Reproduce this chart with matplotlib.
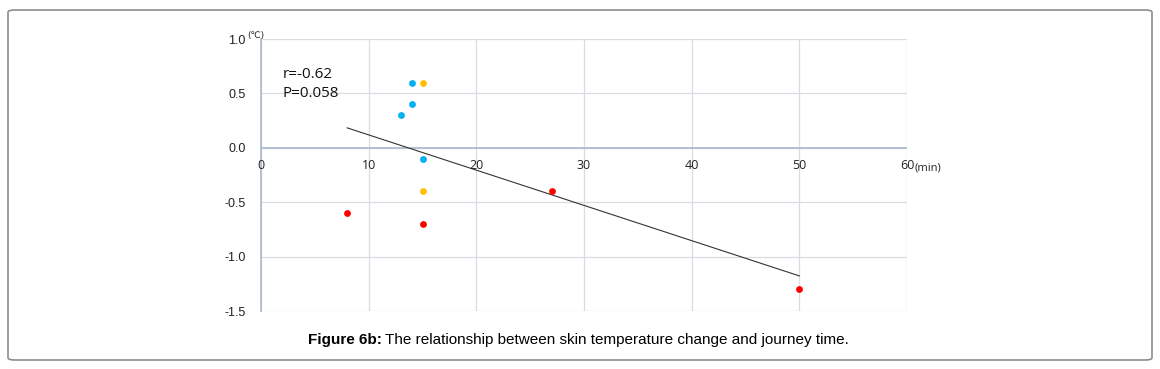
import numpy as np
import matplotlib.pyplot as plt
from matplotlib.patches import FancyBboxPatch

# journey time (min) vs skin temperature change (degC)
blue_x = [14, 14, 13, 15]
blue_y = [0.6, 0.4, 0.3, -0.1]
orange_x = [15, 15]
orange_y = [0.6, -0.4]
red_x = [8, 15, 27, 50]
red_y = [-0.6, -0.7, -0.4, -1.3]

x_ticks = [0, 10, 20, 30, 40, 50, 60]
y_ticks = [1.0, 0.5, 0.0, -0.5, -1.0, -1.5]

plt.rcParams['font.family'] = ['Liberation Sans', 'DejaVu Sans']

fig = plt.figure(figsize=(11.6, 3.69), dpi=100)

# rounded frame around the whole figure
frame = FancyBboxPatch((8 / 1160, 9 / 369), 1144 / 1160, 350 / 369,
                       boxstyle='round,pad=0,rounding_size=0.006',
                       transform=fig.transFigure, fill=False,
                       edgecolor='#8c8c8c', linewidth=1.2)
fig.patches.append(frame)

ax = fig.add_axes([261 / 1160, 1 - 311 / 369, 646 / 1160, 272 / 369])

ax.set_xlim(0, 60)
ax.set_ylim(-1.5, 1.0)
ax.set_xticks(x_ticks)
ax.set_yticks(y_ticks)
ax.grid(True, color='#d9dde3', linewidth=0.9)
ax.set_axisbelow(True)
for s in ['top', 'right', 'bottom']:
    ax.spines[s].set_visible(False)
ax.spines['left'].set_color('#a9b8cb')
ax.spines['left'].set_linewidth(1.2)
ax.axhline(0, color='#a9b8cb', linewidth=1.2, zorder=1)

ax.tick_params(length=0, labelsize=9, colors='#222222')
ax.set_yticklabels([f'{v:.1f}' for v in y_ticks])
ax.tick_params(axis='y', pad=11)
ax.set_xticklabels([])
for t in x_ticks:
    ax.text(t, -0.16, str(t), ha='center', va='center', fontsize=9,
            color='#222222', family=['Open Sans', 'DejaVu Sans'])
ax.text(60.7, -0.19, '(min)', ha='left', va='center', fontsize=8,
        color='#222222', clip_on=False, family=['Open Sans', 'DejaVu Sans'])
ax.text(-1.3, 1.03, '(℃)', ha='left', va='center', fontsize=6.5,
        color='#222222', clip_on=False, family=['DejaVu Sans'])

ax.scatter(blue_x, blue_y, s=24, color='#00b0f0', zorder=3, linewidths=0)
ax.scatter(orange_x, orange_y, s=24, color='#ffc000', zorder=3, linewidths=0)
ax.scatter(red_x, red_y, s=24, color='#ff0000', zorder=3, linewidths=0)

# linear trend over all points
all_x = np.array(blue_x + orange_x + red_x)
all_y = np.array(blue_y + orange_y + red_y)
k, b = np.polyfit(all_x, all_y, 1)
xs = np.array([all_x.min(), all_x.max()])
ax.plot(xs, k * xs + b, color='#333333', linewidth=0.8, zorder=2)

ax.text(2, 0.59, 'r=-0.62\nP=0.058', ha='left', va='center', fontsize=11,
        linespacing=1.35, color='#111111', family=['Open Sans', 'DejaVu Sans'])

# caption: bold label + regular text
fig.text(382 / 1160, 1 - 340 / 369, 'Figure 6b:', ha='right', va='center',
         fontsize=11, fontweight='bold')
fig.text(385 / 1160, 1 - 340 / 369,
         'The relationship between skin temperature change and journey time.',
         ha='left', va='center', fontsize=11)

fig.savefig('out.png', dpi=100)
